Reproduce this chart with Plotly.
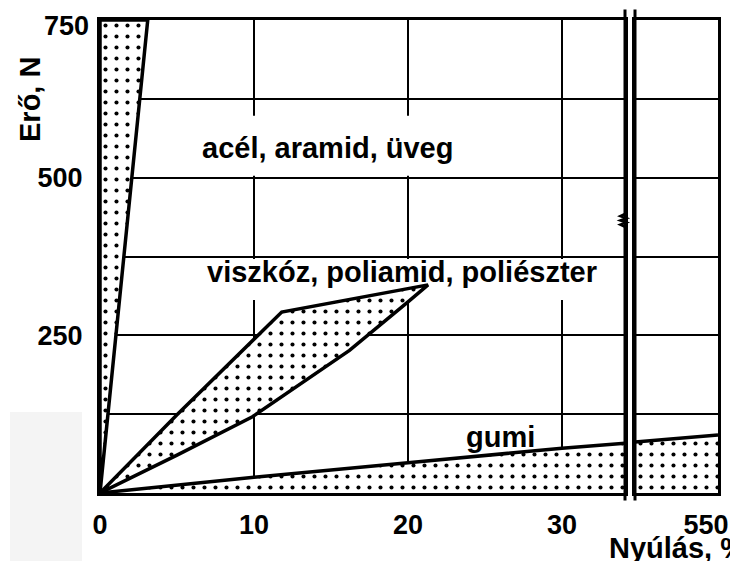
import plotly.graph_objects as go

# ---- data ----
steel_x = [0, 0, 3.1, 0]
steel_y = [0, 750, 750, 0]

synth_upper_x = [0, 5, 11.8, 21.3]
synth_upper_y = [0, 124, 287, 330]
synth_lower_x = [20.0, 16.2, 9.9, 5.0, 0]
synth_lower_y = [303, 226, 121, 60, 0]

rubber_x = [0, 10, 20, 30, 34.09]
rubber_y = [0, 25, 48, 71, 79]
rubber2_x = [500, 550]
rubber2_y = [81, 92]

y_ticks = [0, 125, 250, 375, 500, 625, 750]
y_ticktext = ["", "", "250", "", "500", "", ""]
y_top_label = "750"
x_ticks = [0, 10, 20, 30]
x_ticktext = ["0", "10", "20", "30"]
x2_ticks = [550]
x2_ticktext = ["550"]

label_steel = "acél, aramid, üveg"
label_synth = "viszkóz, poliamid, poliészter"
label_rubber = "gumi"
y_title = "Erő, N"
x_title = "Nyúlás, %"

FONT = "Liberation Sans, Arial, sans-serif"
pattern = dict(shape=".", fgcolor="black", bgcolor="white", size=11, solidity=0.11, fillmode="replace")

fig = go.Figure()

fig.add_trace(go.Scatter(x=rubber_x, y=rubber_y, mode="lines", fill="tozeroy",
                         fillcolor="white", fillpattern=pattern,
                         line=dict(color="black", width=3.5), xaxis="x", yaxis="y"))
fig.add_trace(go.Scatter(x=rubber2_x, y=rubber2_y, mode="lines", fill="tozeroy",
                         fillcolor="white", fillpattern=pattern,
                         line=dict(color="black", width=3.5), xaxis="x2", yaxis="y2"))
fig.add_trace(go.Scatter(x=synth_upper_x + synth_lower_x, y=synth_upper_y + synth_lower_y,
                         mode="lines", fill="toself", fillcolor="white", fillpattern=pattern,
                         line=dict(color="black", width=3.5), xaxis="x", yaxis="y"))
fig.add_trace(go.Scatter(x=steel_x, y=steel_y, mode="lines", fill="toself",
                         fillcolor="white", fillpattern=pattern,
                         line=dict(color="black", width=3.5), xaxis="x", yaxis="y"))

grid = dict(showgrid=True, gridcolor="black", gridwidth=2.2, zeroline=False,
            showline=True, linecolor="black", linewidth=3, mirror=True, automargin=False,
            ticklabeloverflow="allow")
tickfont = dict(family=FONT, size=27, color="black", weight="bold")

# the page body adds an 8px offset; the figure is sized so that it fits the window
fig.update_layout(
    width=730, height=553,
    margin=dict(l=92, r=20, t=12, b=68),
    paper_bgcolor="white", plot_bgcolor="white",
    showlegend=False,
    xaxis=dict(domain=[0, 525 / 618], range=[0, 34.09], tickvals=x_ticks, ticktext=x_ticktext,
               tickfont=tickfont, ticks="", ticklabelstandoff=6, anchor="y", **grid),
    xaxis2=dict(domain=[535 / 618, 1], range=[500, 550], tickvals=x2_ticks, ticktext=x2_ticktext,
                tickfont=tickfont, ticks="", ticklabelstandoff=6, ticklabelshift=-12,
                anchor="y2", showgrid=False, zeroline=False, showline=True, automargin=False,
                ticklabeloverflow="allow",
                linecolor="black", linewidth=3, mirror=True),
    yaxis=dict(range=[0, 750], tickvals=y_ticks, ticktext=y_ticktext, tickfont=tickfont,
               ticks="", ticklabelstandoff=9, anchor="x", **grid),
    yaxis2=dict(range=[0, 750], tickvals=y_ticks, showticklabels=False, anchor="x2",
                matches="y", **grid),
)

fig.add_shape(type="rect", xref="x", yref="y", x0=6.2, x1=23.4, y0=503, y1=598,
              fillcolor="white", line_width=0, layer="between")
fig.add_shape(type="rect", xref="x", yref="y", x0=6.6, x1=32.4, y0=306, y1=371,
              fillcolor="white", line_width=0, layer="between")

bx1 = 525 / 618
bx2 = 535 / 618
for bx in (bx1, bx2):
    fig.add_shape(type="line", xref="paper", yref="paper", x0=bx, x1=bx, y0=-0.016, y1=1.022,
                  line=dict(color="black", width=3))
sq_y = (493 - 214) / 473
d = 0.0075
h = 0.009
path = (f"M {bx1},{sq_y} L {bx1 - d},{sq_y - h * 0.5} L {bx1 + d * 0.3},{sq_y - h} "
        f"L {bx1 - d},{sq_y - h * 1.5} L {bx1 + d * 0.3},{sq_y - h * 2} "
        f"L {bx1 - d},{sq_y - h * 2.5} L {bx1},{sq_y - h * 3}")
fig.add_shape(type="path", xref="paper", yref="paper", path=path,
              line=dict(color="black", width=2.5))

fig.add_shape(type="rect", xref="paper", yref="paper",
              x0=(10 - 100) / 618, x1=(82 - 100) / 618, y0=(493 - 561) / 473, y1=(493 - 412) / 473,
              fillcolor="#f4f4f4", line_width=0, layer="below")

# top y label sits a little below the top border in the original
fig.add_annotation(x=(91 - 100) / 618, y=(493 - 26) / 473, xref="paper", yref="paper",
                   text=y_top_label, showarrow=False, font=tickfont,
                   xanchor="right", yanchor="middle")

labfont = dict(family=FONT, size=29, color="black", weight="bold")
fig.add_annotation(x=14.74, y=547, xref="x", yref="y", text=label_steel, showarrow=False,
                   font=labfont)
fig.add_annotation(x=19.6, y=350, xref="x", yref="y", text=label_synth, showarrow=False,
                   font=labfont)
fig.add_annotation(x=26.0, y=89, xref="x", yref="y", text=label_rubber, showarrow=False,
                   font=labfont)

fig.add_annotation(x=(30 - 100) / 618, y=(493 - 100) / 473, xref="paper", yref="paper",
                   text=y_title, textangle=-90, showarrow=False, font=labfont,
                   xanchor="center", yanchor="middle")
fig.add_annotation(x=(607 - 100) / 618, y=(493 - 548) / 473, xref="paper", yref="paper",
                   text=x_title, showarrow=False, font=labfont,
                   xanchor="left", yanchor="middle")

fig.write_html("out.html")
